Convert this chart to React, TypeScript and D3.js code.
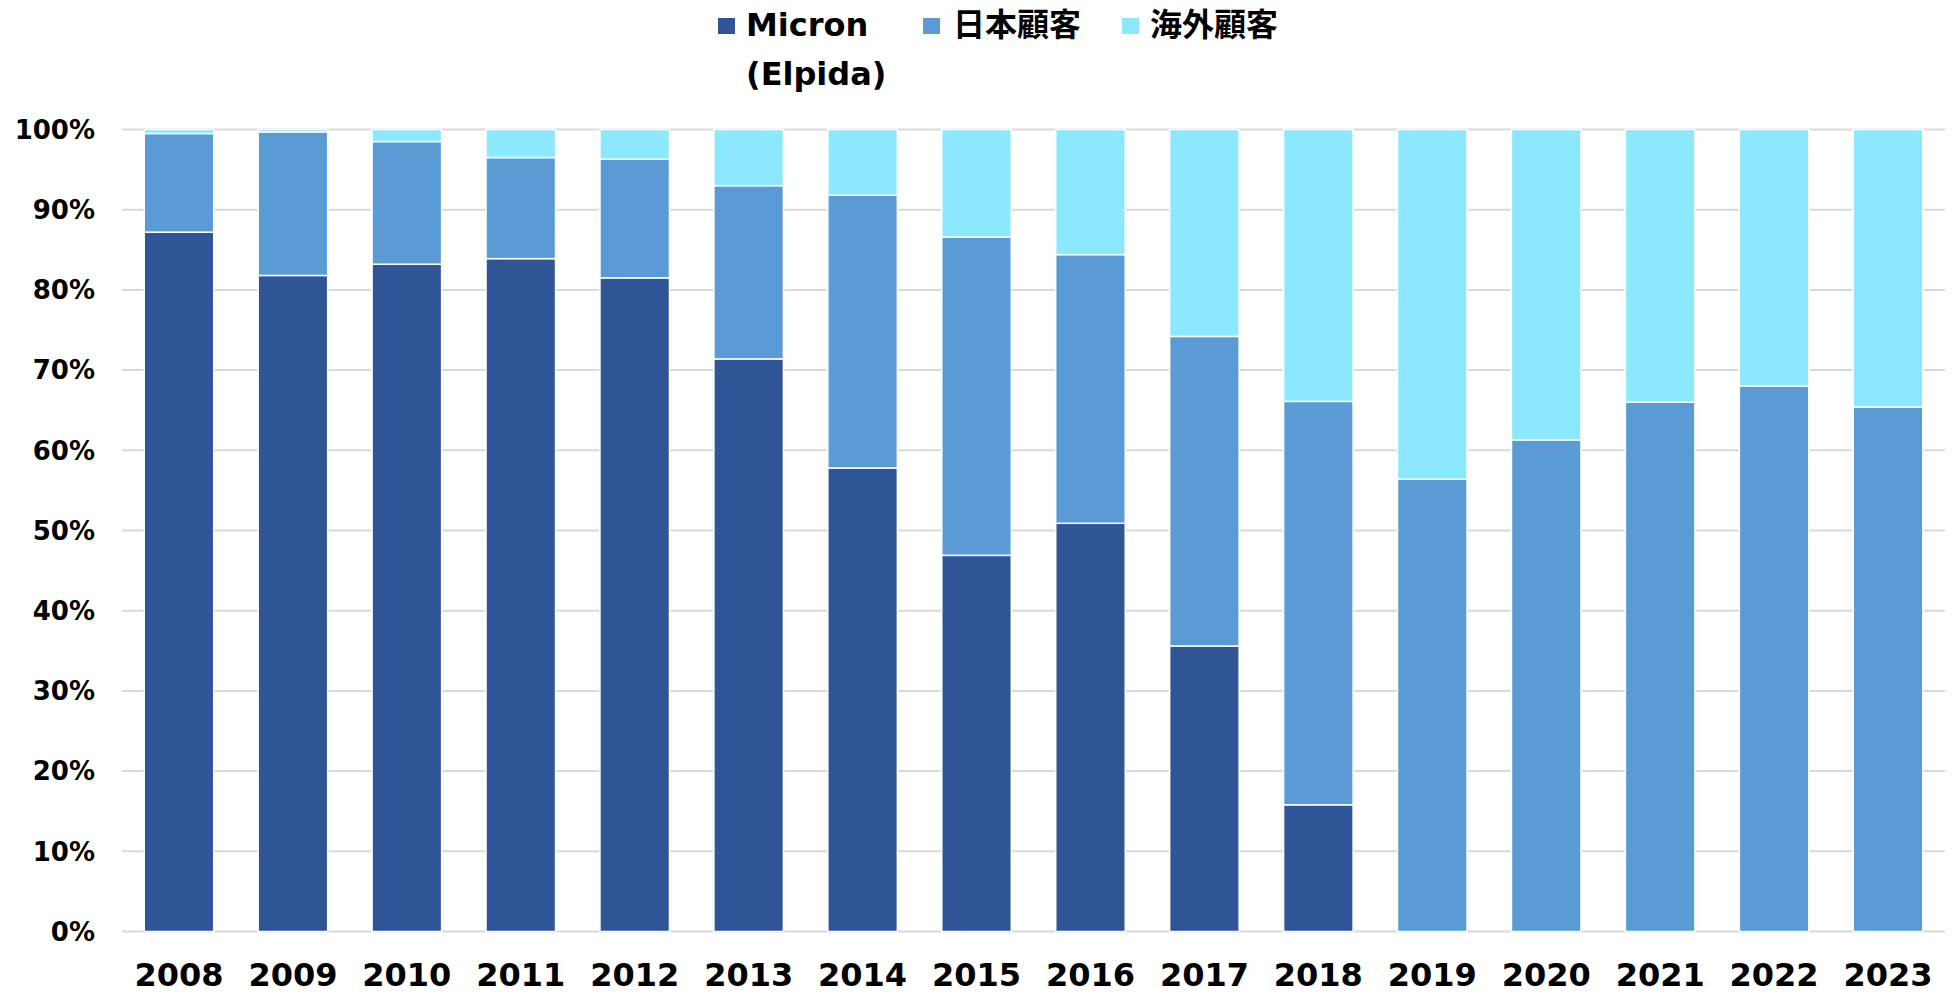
import React from "react";
import * as d3 from "d3";

const years = ["2008","2009","2010","2011","2012","2013","2014","2015","2016","2017","2018","2019","2020","2021","2022","2023"];
const micron = [87.2, 81.8, 83.2, 83.9, 81.5, 71.4, 57.8, 46.9, 50.9, 35.6, 15.8, 0, 0, 0, 0, 0];
const japan = [12.3, 17.9, 15.3, 12.6, 14.8, 21.6, 34.0, 39.7, 33.5, 38.6, 50.3, 56.4, 61.3, 66.0, 68.0, 65.4];
const overseas = [0.5, 0.3, 1.5, 3.5, 3.7, 7.0, 8.2, 13.4, 15.6, 25.8, 33.9, 43.6, 38.7, 34.0, 32.0, 34.6];
const yTicks = [0, 10, 20, 30, 40, 50, 60, 70, 80, 90, 100];
const seriesNames = ["Micron", "日本顧客", "海外顧客"];
const colors = ["#2F5597", "#5B9BD5", "#8CE8FF"];

const W = 1952, H = 994;
const FONT = '"DejaVu Sans", "Noto Sans CJK JP", sans-serif';

export default function App() {
  const x = d3.scaleBand().domain(years).range([122, 1945]).paddingInner(0.39).paddingOuter(0.195);
  const y = d3.scaleLinear().domain([0, 100]).range([931.5, 129.5]);
  const rows = years.map((yr, i) => ({ year: yr, m: micron[i], j: japan[i], o: overseas[i] }));
  const stack = d3.stack<any>().keys(["m", "j", "o"])(rows);

  return (
    <svg width={W} height={H} style={{ position: "absolute", left: 0, top: 0, background: "#fff" }} fontFamily={FONT}>
      {yTicks.map(t => (
        <g key={t}>
          <line x1={122} x2={1945} y1={y(t)} y2={y(t)} stroke="#D9D9D9" strokeWidth={2} />
          <text x={95} y={y(t)} dy="0.36em" textAnchor="end" fontSize={26} fontWeight="bold" fill="#000">{t}%</text>
        </g>
      ))}
      {stack.map((s, si) => (
        <g key={si} fill={colors[si]}>
          {s.map((d, i) => {
            const h = y(d[0]) - y(d[1]);
            if (h <= 0) return null;
            return <rect key={i} x={x(years[i])} y={y(d[1])} width={x.bandwidth()} height={h} stroke="#fff" strokeWidth={1.5} />;
          })}
        </g>
      ))}
      {years.map(yr => (
        <text key={yr} x={(x(yr) as number) + x.bandwidth() / 2} y={986} textAnchor="middle" fontSize={32} fontWeight="bold" fill="#000">{yr}</text>
      ))}
      <g>
        <rect x={718} y={18} width={17} height={16} fill={colors[0]} />
        <text x={746} y={36} fontSize={32} fontWeight="bold">{seriesNames[0]}</text>
        <text x={746} y={85} fontSize={32} fontWeight="bold">(Elpida)</text>
        <rect x={923} y={18} width={17} height={16} fill={colors[1]} />
        <text x={953} y={36} fontSize={32} fontWeight="bold">{seriesNames[1]}</text>
        <rect x={1122} y={18} width={17} height={16} fill={colors[2]} />
        <text x={1150} y={36} fontSize={32} fontWeight="bold">{seriesNames[2]}</text>
      </g>
    </svg>
  );
}
